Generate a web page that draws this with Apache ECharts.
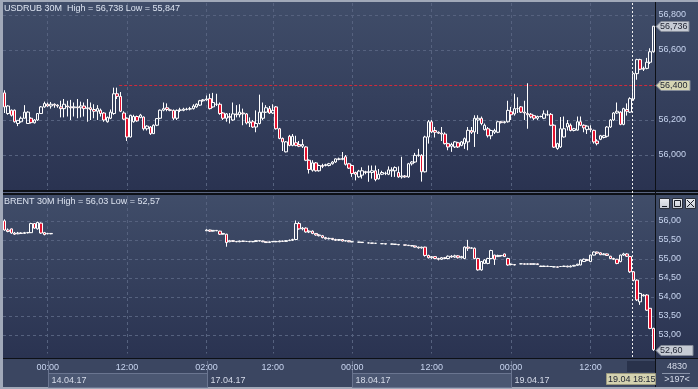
<!DOCTYPE html>
<html><head><meta charset="utf-8">
<script src="https://cdn.jsdelivr.net/npm/echarts/dist/echarts.min.js"></script>
<style>html,body{margin:0;padding:0;background:#a1a9b9;overflow:hidden}#c{width:698px;height:389px}</style>
</head><body><div id="c"></div>
<script>
// ---------- DATA ----------
const sessions = [['13.04.17','17:30',13],['14.04.17','00:00',48],['17.04.17','02:00',44],['18.04.17','00:00',48],['19.04.17','00:00',44]];
const timeTickLabels = ['14.04.17 00:00','14.04.17 12:00','17.04.17 02:00','17.04.17 12:00','18.04.17 00:00','18.04.17 12:00','19.04.17 00:00','19.04.17 12:00'];
const dateLabels = ['14.04.17','17.04.17','18.04.17','19.04.17'];
const usdrubTicks = [56.0, 56.2, 56.4, 56.6, 56.8];
const usdrubGridLines = [56.0, 56.2, 56.6, 56.8];
const brentTicks = [53.0, 53.5, 54.0, 54.5, 55.0, 55.5, 56.0];
const usdrubLevel = 56.4;
const usdrubLast = 56.736;
const brentLast = 52.60;
const cursorLabel = '19.04 18:15';
const barCountText = ['4830', '>197<'];
// [open, close, low, high]
const usdrubOHLC = [
[56.355,56.275,56.24,56.37],[56.237,56.28,56.23,56.285],[56.256,56.227,56.22,56.26],[56.256,56.19,56.185,56.26],
[56.18,56.198,56.165,56.2],[56.19,56.21,56.185,56.22],[56.21,56.245,56.21,56.285],[56.18,56.245,56.178,56.25],
[56.21,56.185,56.18,56.215],[56.184,56.2,56.18,56.205],[56.2,56.237,56.195,56.24],[56.237,56.275,56.235,56.28],
[56.275,56.294,56.27,56.305],[56.29,56.28,56.275,56.3],[56.28,56.29,56.265,56.303],[56.29,56.285,56.27,56.295],
[56.285,56.28,56.27,56.29],[56.275,56.265,56.215,56.31],[56.265,56.29,56.215,56.32],[56.28,56.275,56.22,56.31],
[56.275,56.27,56.2,56.315],[56.27,56.275,56.22,56.3],[56.275,56.27,56.21,56.32],[56.27,56.28,56.215,56.305],
[56.28,56.265,56.22,56.3],[56.265,56.27,56.19,56.32],[56.27,56.26,56.2,56.3],[56.26,56.25,56.21,56.29],
[56.25,56.265,56.2,56.285],[56.256,56.237,56.22,56.265],[56.24,56.2,56.19,56.245],[56.19,56.215,56.185,56.22],
[56.21,56.245,56.205,56.26],[56.237,56.35,56.23,56.385],[56.35,56.335,56.32,56.385],[56.335,56.25,56.245,56.36],
[56.24,56.205,56.2,56.25],[56.21,56.103,56.08,56.215],[56.103,56.227,56.1,56.23],[56.19,56.22,56.185,56.23],
[56.22,56.195,56.19,56.225],[56.215,56.228,56.21,56.235],[56.217,56.15,56.14,56.22],[56.15,56.165,56.14,56.17],
[56.16,56.122,56.115,56.165],[56.122,56.17,56.12,56.175],[56.17,56.208,56.165,56.21],[56.21,56.256,56.205,56.26],
[56.256,56.265,56.25,56.3],[56.27,56.26,56.25,56.295],[56.258,56.255,56.25,56.265],[56.255,56.21,56.2,56.26],
[56.21,56.255,56.2,56.26],[56.255,56.258,56.245,56.27],[56.255,56.262,56.25,56.27],[56.26,56.262,56.255,56.27],
[56.262,56.265,56.255,56.275],[56.265,56.28,56.26,56.29],[56.275,56.29,56.27,56.295],[56.285,56.31,56.28,56.315],
[56.31,56.315,56.305,56.32],[56.315,56.32,56.31,56.34],[56.322,56.265,56.26,56.35],[56.275,56.3,56.27,56.355],
[56.29,56.29,56.28,56.35],[56.29,56.237,56.23,56.3],[56.24,56.21,56.2,56.245],[56.21,56.235,56.19,56.24],
[56.22,56.215,56.18,56.24],[56.2,56.235,56.195,56.3],[56.235,56.23,56.215,56.285],[56.23,56.245,56.215,56.29],
[56.24,56.235,56.17,56.265],[56.235,56.183,56.175,56.24],[56.183,56.19,56.16,56.215],[56.19,56.16,56.155,56.2],
[56.16,56.18,56.13,56.255],[56.18,56.245,56.175,56.345],[56.21,56.245,56.2,56.3],[56.245,56.27,56.24,56.285],
[56.265,56.24,56.235,56.28],[56.24,56.255,56.235,56.29],[56.275,56.15,56.145,56.28],[56.15,56.095,56.09,56.155],
[56.095,56.075,56.023,56.1],[56.018,56.075,56.015,56.08],[56.107,56.055,56.05,56.115],[56.055,56.107,56.05,56.12],
[56.07,56.055,56.05,56.11],[56.06,56.05,56.045,56.08],[56.05,56.06,56.04,56.09],[56.046,55.97,55.965,56.05],
[55.97,55.917,55.894,55.975],[55.913,55.955,55.905,55.97],[55.955,55.91,55.905,55.96],[55.91,55.94,55.905,55.945],
[55.94,55.935,55.925,55.95],[55.94,55.945,55.935,55.95],[55.94,55.95,55.935,55.955],[55.95,55.96,55.945,55.965],
[55.96,55.978,55.955,55.98],[55.975,55.978,55.97,55.985],[55.975,55.98,55.97,56.017],[55.99,55.947,55.94,56.0],
[55.95,55.925,55.92,55.955],[55.94,55.894,55.875,55.945],[55.9,55.89,55.855,55.905],[55.875,55.908,55.87,55.915],
[55.885,55.91,55.865,55.93],[55.905,55.9,55.89,55.91],[55.9,55.905,55.847,55.94],[55.9,55.91,55.865,55.94],
[55.91,55.86,55.85,55.94],[55.864,55.89,55.86,55.92],[55.89,55.9,55.885,55.91],[55.895,55.895,55.885,55.905],
[55.89,55.915,55.885,55.935],[55.91,55.915,55.875,55.93],[55.91,55.928,55.875,55.935],[55.9,55.875,55.87,55.935],
[55.875,55.88,55.865,55.99],[55.88,55.875,55.87,55.885],[55.875,55.95,55.87,55.955],[55.95,55.96,55.94,55.965],
[55.96,55.998,55.955,56.012],[55.998,56.0,55.99,56.035],[55.998,55.904,55.848,56.005],[55.904,56.103,55.9,56.11],
[56.103,56.19,56.065,56.2],[56.19,56.132,56.125,56.2],[56.14,56.13,56.1,56.16],[56.13,56.125,56.12,56.135],
[56.125,56.12,56.08,56.16],[56.12,56.065,56.06,56.13],[56.065,56.046,56.027,56.07],[56.05,56.06,56.018,56.07],
[56.046,56.075,56.04,56.08],[56.07,56.046,56.04,56.075],[56.055,56.075,56.05,56.08],[56.065,56.093,56.035,56.1],
[56.075,56.141,56.027,56.16],[56.14,56.13,56.12,56.16],[56.132,56.21,56.046,56.227],[56.2,56.21,56.12,56.227],
[56.21,56.18,56.17,56.22],[56.145,56.17,56.14,56.18],[56.15,56.11,56.1,56.16],[56.11,56.14,56.09,56.145],
[56.13,56.14,56.12,56.15],[56.13,56.19,56.125,56.195],[56.19,56.185,56.18,56.195],[56.185,56.19,56.18,56.195],
[56.19,56.255,56.185,56.31],[56.247,56.23,56.2,56.275],[56.235,56.265,56.225,56.35],[56.265,56.265,56.24,56.33],
[56.275,56.245,56.24,56.28],[56.245,56.24,56.2,56.31],[56.237,56.23,56.15,56.41],[56.233,56.218,56.21,56.24],
[56.225,56.21,56.2,56.23],[56.21,56.22,56.2,56.225],[56.22,56.22,56.215,56.225],[56.21,56.235,56.205,56.255],
[56.23,56.23,56.225,56.255],[56.232,56.17,56.165,56.24],[56.17,56.045,56.04,56.175],[56.037,56.065,56.03,56.07],
[56.046,56.15,56.04,56.217],[56.103,56.15,56.1,56.22],[56.16,56.18,56.14,56.2],[56.17,56.14,56.135,56.18],
[56.14,56.15,56.135,56.155],[56.142,56.19,56.14,56.22],[56.19,56.17,56.165,56.22],[56.17,56.155,56.13,56.175],
[56.145,56.165,56.12,56.17],[56.15,56.145,56.13,56.17],[56.141,56.075,56.065,56.145],[56.08,56.065,56.055,56.09],
[56.09,56.11,56.085,56.115],[56.1,56.11,56.095,56.115],[56.107,56.16,56.1,56.165],[56.16,56.2,56.155,56.205],
[56.2,56.24,56.195,56.245],[56.24,56.25,56.235,56.3],[56.245,56.175,56.17,56.25],[56.175,56.265,56.17,56.27],
[56.26,56.25,56.225,56.295],[56.245,56.322,56.24,56.33],[56.32,56.465,56.31,56.47],[56.465,56.545,56.43,56.55],
[56.545,56.49,56.485,56.55],[56.49,56.495,56.48,56.505],[56.495,56.53,56.49,56.555],[56.53,56.59,56.52,56.61],
[56.59,56.736,56.585,56.738]
];
// [open, close, low, high]; null = no trading in that half hour
const brentOHLC = [
[55.99,55.75,55.73,56.03],[55.75,55.71,55.69,55.79],[55.78,55.67,55.65,55.79],[55.67,55.64,55.62,55.7],
[55.65,55.67,55.64,55.7],[55.67,55.66,55.65,55.69],[55.66,55.68,55.65,55.7],[55.68,55.68,55.66,55.7],
[55.68,55.92,55.67,55.94],[55.92,55.8,55.78,55.93],[55.78,55.95,55.76,55.97],[55.93,55.67,55.65,55.95],
[55.68,55.63,55.61,55.7],[55.65,55.66,55.64,55.67],[55.66,55.65,55.64,55.67],
null,null,null,null,null,null,null,null,null,null,
null,null,null,null,null,null,null,null,null,null,
null,null,null,null,null,null,null,null,null,null,
null,null,null,null,null,null,null,null,null,null,
null,null,null,null,null,null,
[55.73,55.75,55.72,55.77],[55.75,55.72,55.7,55.76],[55.72,55.74,55.71,55.75],[55.74,55.73,55.72,55.75],
[55.72,55.64,55.62,55.73],[55.64,55.66,55.63,55.67],[55.64,55.42,55.31,55.65],[55.44,55.47,55.43,55.49],
[55.47,55.45,55.44,55.48],[55.45,55.44,55.43,55.46],[55.44,55.46,55.43,55.47],[55.46,55.45,55.44,55.47],
[55.45,55.45,55.44,55.46],[55.45,55.44,55.43,55.46],[55.44,55.45,55.43,55.46],[55.45,55.47,55.44,55.48],
[55.47,55.46,55.45,55.48],[55.46,55.44,55.43,55.47],[55.44,55.42,55.41,55.45],[55.42,55.44,55.41,55.45],
[55.44,55.45,55.43,55.46],[55.45,55.44,55.43,55.46],[55.44,55.46,55.43,55.47],[55.46,55.45,55.44,55.47],
[55.45,55.47,55.44,55.48],[55.47,55.48,55.46,55.5],[55.48,55.5,55.46,55.52],[55.5,55.92,55.48,56.0],
[55.92,55.78,55.76,55.96],[55.78,55.8,55.74,55.83],[55.8,55.7,55.68,55.82],[55.7,55.72,55.67,55.74],
[55.72,55.66,55.64,55.74],[55.66,55.62,55.6,55.67],[55.62,55.6,55.58,55.64],[55.6,55.55,55.53,55.62],
[55.55,55.52,55.5,55.57],[55.52,55.53,55.5,55.55],[55.53,55.5,55.48,55.54],[55.5,55.48,55.46,55.52],
[55.48,55.5,55.46,55.51],[55.5,55.46,55.45,55.51],[55.46,55.47,55.45,55.48],[55.47,55.44,55.43,55.48],
[55.44,55.44,55.43,55.45],null,[55.43,55.43,55.42,55.44],[55.43,55.42,55.41,55.43],
null,[55.41,55.41,55.4,55.42],[55.41,55.4,55.39,55.41],[55.4,55.4,55.39,55.41],
null,[55.39,55.39,55.38,55.4],[55.39,55.38,55.37,55.39],null,
[55.38,55.38,55.37,55.39],[55.38,55.37,55.36,55.38],[55.37,55.36,55.35,55.37],null,
[55.36,55.35,55.34,55.36],[55.35,55.34,55.33,55.35],[55.34,55.33,55.32,55.35],[55.33,55.3,55.29,55.34],
[55.3,55.28,55.26,55.31],[55.28,55.3,55.26,55.31],[55.3,55.08,55.05,55.31],[55.08,55.02,55.0,55.1],
[55.02,55.05,54.99,55.06],[55.05,55.0,54.98,55.06],[55.0,54.98,54.95,55.02],[54.98,55.02,54.96,55.04],
[55.02,55.0,54.98,55.04],[55.0,55.06,54.98,55.08],[55.06,55.04,55.02,55.09],[55.04,55.07,55.02,55.1],
[55.07,55.02,55.0,55.09],[55.02,55.05,55.0,55.07],[55.0,55.3,54.98,55.32],[55.3,55.27,55.2,55.49],
[55.27,55.28,55.25,55.3],[55.27,55.0,54.98,55.29],[55.0,54.7,54.68,55.02],[54.7,54.92,54.68,54.93],
[54.87,54.96,54.86,54.98],[54.87,55.0,54.85,55.02],[55.0,55.21,54.98,55.23],[55.09,54.98,54.83,55.1],
[55.05,55.08,55.04,55.1],[55.08,55.07,55.05,55.09],[55.12,55.05,55.04,55.13],[55.0,54.83,54.81,55.02],
[54.85,54.84,54.82,54.87],[54.84,54.83,54.82,54.85],null,[54.86,54.86,54.85,54.87],
[54.86,54.85,54.84,54.87],[54.85,54.86,54.84,54.87],[54.86,54.85,54.84,54.87],[54.85,54.86,54.84,54.87],
[54.86,54.84,54.83,54.87],[54.8,54.79,54.78,54.81],[54.79,54.8,54.78,54.81],[54.8,54.79,54.78,54.81],
[54.79,54.79,54.78,54.8],[54.78,54.78,54.77,54.79],[54.78,54.77,54.76,54.79],[54.79,54.79,54.78,54.8],
[54.79,54.8,54.78,54.81],[54.8,54.78,54.77,54.81],[54.78,54.8,54.77,54.82],[54.8,54.82,54.79,54.83],
[54.82,54.85,54.81,54.86],[54.83,54.96,54.82,54.97],[54.92,54.98,54.91,55.0],[54.97,54.95,54.93,54.99],
[54.92,55.09,54.91,55.1],[55.09,55.17,55.08,55.19],[55.17,55.14,55.12,55.18],[55.15,55.1,55.09,55.16],
[55.1,55.12,55.09,55.14],[55.12,55.08,55.07,55.13],[55.06,55.0,54.99,55.07],[55.0,54.98,54.96,55.02],
[54.98,54.87,54.85,54.99],[54.92,55.09,54.9,55.1],[55.09,55.12,55.07,55.15],[55.12,55.06,55.04,55.14],
[55.05,54.65,54.62,55.07],[54.65,54.43,54.4,54.67],[54.43,53.91,53.88,54.45],[53.86,54.08,53.78,54.1],
[54.02,54.04,54.0,54.06],[54.04,53.64,53.62,54.06],[53.69,53.16,53.14,53.7],[53.16,52.6,52.57,53.18]
];

// ---------- BUILD ----------
const categories = [];
sessions.forEach(([d, t, n]) => {
  const [h, m] = t.split(':').map(Number);
  for (let k = 0; k < n; k++) {
    const mm = h * 60 + m + 30 * k;
    categories.push(d + ' ' + String(Math.floor(mm / 60)).padStart(2, '0') + ':' + String(mm % 60).padStart(2, '0'));
  }
});
const tickSet = new Set(timeTickLabels.map(l => categories.indexOf(l)));
const brentData = [];
brentOHLC.forEach((r, i) => { if (r) brentData.push([i, r[0], r[1], r[2], r[3]]); });

const FONT = '"Liberation Sans", Arial, sans-serif';
const FS = 9;
const GRID = '#56627f';
const AXISTXT = '#c8d5f0';
const fmt3 = v => v.toFixed(3).replace('.', ',');
const fmt2 = v => v.toFixed(2).replace('.', ',');
const near = (arr, v) => arr.some(a => Math.abs(a - v) < 1e-6);

const chart = echarts.init(document.getElementById('c'), null, {width: 698, height: 389});
const candleStyle = {color: 'rgba(0,0,0,0)', color0: '#e3122f', borderColor: '#ffffff', borderColor0: '#ffffff', borderColorDoji: '#ffffff', borderWidth: 1};
const xBase = {type: 'category', data: categories, boundaryGap: false, axisLine: {show: false}, axisTick: {show: false},
  splitLine: {show: true, interval: (i) => tickSet.has(i), lineStyle: {color: GRID, type: [3, 3], width: 1}}};

chart.setOption({
  animation: false,
  backgroundColor: '#a1a9b9',
  grid: [
    {left: 4.65, right: 44.6, top: 3, height: 187},
    {left: 4.65, right: 44.6, top: 196, height: 157.5}
  ],
  xAxis: [
    Object.assign({}, xBase, {gridIndex: 0, axisLabel: {show: false}}),
    Object.assign({}, xBase, {gridIndex: 1, axisLabel: {show: true, interval: (i) => tickSet.has(i),
      formatter: v => v.split(' ')[1], color: AXISTXT, fontSize: FS, fontFamily: FONT, margin: 10}})
  ],
  yAxis: [
    {gridIndex: 0, type: 'value', position: 'right', min: 55.8, max: 56.8686, interval: 0.2, scale: true,
     axisLine: {show: false}, axisTick: {show: false}, splitLine: {show: false},
     axisLabel: {color: AXISTXT, fontSize: FS, fontFamily: FONT, margin: 5, formatter: v => near(usdrubTicks, v) ? fmt3(v) : ''}},
    {gridIndex: 1, type: 'value', position: 'right', min: 52.5, max: 56.645, interval: 0.5, scale: true,
     axisLine: {show: false}, axisTick: {show: false}, splitLine: {show: false},
     axisLabel: {color: AXISTXT, fontSize: FS, fontFamily: FONT, margin: 5, formatter: v => near(brentTicks, v) ? fmt2(v) : ''}}
  ],
  series: [
    {type: 'candlestick', name: 'USDRUB', xAxisIndex: 0, yAxisIndex: 0, data: usdrubOHLC, barWidth: 3, clip: false, itemStyle: candleStyle, z: 5},
    {type: 'candlestick', name: 'BRENT', xAxisIndex: 1, yAxisIndex: 1, data: brentData, encode: {x: 0, y: [1, 2, 3, 4]}, barWidth: 3, clip: false, itemStyle: candleStyle, z: 5}
  ]
});

// ---------- DECORATION (positions from the chart's own scales) ----------
const px = i => chart.convertToPixel({xAxisIndex: 1}, categories[i]);
const pyT = v => chart.convertToPixel({yAxisIndex: 0}, v);
const pyB = v => chart.convertToPixel({yAxisIndex: 1}, v);
const crisp = y => Math.round(y) + 0.5;
const grad = () => new echarts.graphic.LinearGradient(0, 0, 0, 1, [{offset: 0, color: '#404d69'}, {offset: 1, color: '#2a3351'}]);
const g = [];
g.push({type: 'rect', z: -10, shape: {x: 3, y: 2, width: 695, height: 188}, style: {fill: grad()}});
g.push({type: 'rect', z: -10, shape: {x: 3, y: 190, width: 695, height: 5}, style: {fill: '#0d1016'}});
g.push({type: 'rect', z: -9, shape: {x: 3, y: 192, width: 695, height: 1}, style: {fill: '#5a6580'}});
g.push({type: 'rect', z: -10, shape: {x: 3, y: 195, width: 695, height: 163}, style: {fill: grad()}});
g.push({type: 'rect', z: -10, shape: {x: 3, y: 358, width: 695, height: 1}, style: {fill: '#0d1016'}});
g.push({type: 'rect', z: -10, shape: {x: 3, y: 359, width: 695, height: 28}, style: {fill: '#3b4661'}});
g.push({type: 'rect', z: -9, shape: {x: 627, y: 361, width: 28, height: 11}, style: {fill: '#29324b'}});
usdrubGridLines.forEach(v => g.push({type: 'line', z: 1, shape: {x1: 3, y1: crisp(pyT(v)), x2: 655, y2: crisp(pyT(v))}, style: {stroke: GRID, lineWidth: 1, lineDash: [3, 3]}}));
brentTicks.forEach(v => g.push({type: 'line', z: 1, shape: {x1: 3, y1: crisp(pyB(v)), x2: 655, y2: crisp(pyB(v))}, style: {stroke: GRID, lineWidth: 1, lineDash: [3, 3]}}));
const yl = crisp(pyT(usdrubLevel));
g.push({type: 'line', z: 3, shape: {x1: px(34) + 2, y1: yl, x2: 655, y2: yl}, style: {stroke: '#d3283a', lineWidth: 1, lineDash: [3, 2]}});
g.push({type: 'rect', z: 20, shape: {x: 655, y: 2, width: 1, height: 385}, style: {fill: '#0d1016'}});
const xc = Math.round((px(189) + px(190)) / 2) + 0.5;
g.push({type: 'line', z: 15, shape: {x1: xc, y1: 3, x2: xc, y2: 358}, style: {stroke: '#f2f2f2', lineWidth: 1, lineDash: [2, 2]}});
const starts = dateLabels.map(d => categories.findIndex(c => c.startsWith(d) && tickSet.has(categories.indexOf(c))));
starts.forEach((si, k) => {
  const x0 = Math.round(px(si)) + 0.5;
  const x1 = k < starts.length - 1 ? Math.round(px(starts[k + 1])) + 0.5 : 655;
  if (k % 2 === 0) g.push({type: 'rect', z: -8, shape: {x: x0, y: 373.5, width: x1 - x0, height: 14}, style: {fill: '#4b5772', stroke: '#6a7590', lineWidth: 1}});
  g.push({type: 'line', z: -7, shape: {x1: x0, y1: 361, x2: x0, y2: 387}, style: {stroke: '#6a7590', lineWidth: 1}});
  g.push({type: 'text', z: 4, style: {x: x0 + 3, y: 380.5, text: dateLabels[k], fill: '#d6dcea', font: FS + 'px ' + FONT, textVerticalAlign: 'middle'}});
});
g.push({type: 'text', z: 4, style: {x: 4, y: 8.5, text: 'USDRUB 30M  High = 56,738 Low = 55,847', fill: '#dce3f0', font: FS + 'px ' + FONT, textVerticalAlign: 'middle'}});
g.push({type: 'text', z: 4, style: {x: 4, y: 202, text: 'BRENT 30M High = 56,03 Low = 52,57', fill: '#dce3f0', font: FS + 'px ' + FONT, textVerticalAlign: 'middle'}});
function priceBox(yc, text, fill, right) {
  yc = Math.round(yc) + 0.5;
  g.push({type: 'polygon', z: 25, shape: {points: [[656, yc], [661, yc - 5], [right, yc - 5], [right, yc + 5], [661, yc + 5]]}, style: {fill: fill, stroke: '#848b99', lineWidth: 1}});
  g.push({type: 'text', z: 26, style: {x: 660, y: yc, text: text, fill: '#1d2230', font: FS + 'px ' + FONT, textVerticalAlign: 'middle'}});
}
priceBox(pyT(usdrubLast), fmt3(usdrubLast), '#c6cbd4', 689);
priceBox(pyT(usdrubLevel), fmt3(usdrubLevel), '#d6d5b3', 690);
priceBox(pyB(brentLast), fmt2(brentLast), '#c6cbd4', 693);
g.push({type: 'rect', z: 25, shape: {x: 606.5, y: 373.5, width: 49, height: 11}, style: {fill: '#d4d2b0', stroke: '#9c9a80', lineWidth: 1}});
g.push({type: 'text', z: 26, style: {x: 608, y: 379.5, text: cursorLabel, fill: '#1d2230', font: FS + 'px ' + FONT, textVerticalAlign: 'middle'}});
g.push({type: 'text', z: 4, style: {x: 677, y: 367, text: barCountText[0], fill: '#d6dcea', font: FS + 'px ' + FONT, textAlign: 'center', textVerticalAlign: 'middle'}});
g.push({type: 'line', z: 4, shape: {x1: 662, y1: 373.5, x2: 690, y2: 373.5}, style: {stroke: '#8a94aa', lineWidth: 1}});
g.push({type: 'text', z: 4, style: {x: 677, y: 380, text: barCountText[1], fill: '#d6dcea', font: FS + 'px ' + FONT, textAlign: 'center', textVerticalAlign: 'middle'}});
[659, 672, 685].forEach((bx, k) => {
  g.push({type: 'rect', z: 25, shape: {x: bx + 0.5, y: 198.5, width: 10, height: 10}, style: {fill: new echarts.graphic.LinearGradient(0, 0, 0, 1, [{offset: 0, color: '#eef0f4'}, {offset: 1, color: '#c3c8d2'}]), stroke: '#2a2f3a', lineWidth: 1}});
  if (k === 0) g.push({type: 'line', z: 26, shape: {x1: bx + 3, y1: 206.5, x2: bx + 8, y2: 206.5}, style: {stroke: '#1a1e28', lineWidth: 1}});
  if (k === 1) g.push({type: 'rect', z: 26, shape: {x: bx + 2.5, y: 200.5, width: 6, height: 6}, style: {fill: 'none', stroke: '#1a1e28', lineWidth: 1}});
  if (k === 2) { g.push({type: 'line', z: 26, shape: {x1: bx + 2, y1: 200, x2: bx + 9, y2: 207}, style: {stroke: '#1a1e28', lineWidth: 1}});
                 g.push({type: 'line', z: 26, shape: {x1: bx + 9, y1: 200, x2: bx + 2, y2: 207}, style: {stroke: '#1a1e28', lineWidth: 1}}); }
});
chart.setOption({graphic: g});
</script></body></html>
